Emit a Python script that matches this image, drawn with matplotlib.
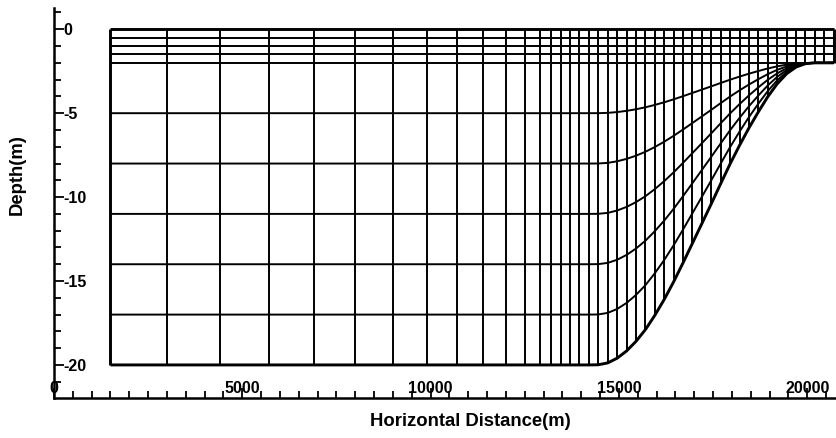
import numpy as np
import matplotlib
matplotlib.use('Agg')
import matplotlib.pyplot as plt
from matplotlib.ticker import MultipleLocator

plt.rcParams['font.family'] = ['Liberation Sans', 'DejaVu Sans']
plt.rcParams['font.weight'] = 'bold'

# Grid node x positions (m)
x_nodes = [1500, 3000, 4400, 5700, 6900, 8000, 9000, 9900, 10700, 11400,
           12000, 12500, 12900, 13200, 13450,
           13700, 13950, 14200, 14450, 14700, 14950, 15200, 15450, 15700,
           15950, 16200, 16450, 16700, 16950, 17200, 17450, 17700, 17950,
           18200, 18450, 18700, 18950, 19200, 19450, 19700, 19950, 20200,
           20450, 20700]
# Bottom depth at each node (m)
bottom_depth = [-20, -20, -20, -20, -20, -20, -20, -20, -20, -20,
                -20, -20, -20, -20, -20,
                -20, -20, -20, -19.99, -19.88, -19.6, -19.17, -18.6, -17.9,
                -17.05, -16.1, -15.05, -13.92, -12.75, -11.58, -10.4, -9.2, -8.02,
                -6.92, -5.88, -4.92, -4.02, -3.25, -2.65, -2.25, -2.05, -2.0,
                -2.0, -2.0]
# Fixed near-surface z-levels (m)
surface_levels = [0, -0.5, -1.0, -1.5, -2.0]
n_sigma_layers = 6

x_ticks = [0, 5000, 10000, 15000, 20000]
x_tick_labels = ['0', '5000', '10000', '15000', '20000']
y_ticks = [0, -5, -10, -15, -20]
y_tick_labels = ['0', '-5', '-10', '-15', '-20']

x = np.array(x_nodes, dtype=float)
hb = np.array(bottom_depth, dtype=float)
ztop = surface_levels[-1]

fig = plt.figure(figsize=(8.37, 4.38), dpi=100)
ax = fig.add_axes([54/837, 1-398/438, 1-54/837, (398-8.3)/438])

lw_in = 1.4
lw_out = 2.1
c = 'black'

# horizontal z-levels
for i, lev in enumerate(surface_levels):
    ax.plot([x[0], x[-1]], [lev, lev], color=c,
            lw=lw_out if i == 0 else lw_in, solid_capstyle='butt', zorder=2)
# sigma levels
for k in range(1, n_sigma_layers + 1):
    z = ztop + (hb - ztop) * k / n_sigma_layers
    ax.plot(x, z, color=c, lw=lw_out if k == n_sigma_layers else lw_in,
            solid_capstyle='butt', solid_joinstyle='round', zorder=2)
# vertical grid lines
for i, (xi, bi) in enumerate(zip(x, hb)):
    edge = (i == 0 or i == len(x) - 1)
    ax.plot([xi, xi], [surface_levels[0], bi], color=c,
            lw=lw_out if edge else lw_in, solid_capstyle='butt', zorder=2)

ax.set_xlim(0, 20788)
ax.set_ylim(-21.97, 1.25)

for s in ['top', 'right']:
    ax.spines[s].set_visible(False)
for s in ['left', 'bottom']:
    ax.spines[s].set_linewidth(1.8)

ax.set_xticks(x_ticks)
ax.set_xticklabels(x_tick_labels)
ax.set_yticks(y_ticks)
ax.set_yticklabels(y_tick_labels)
ax.xaxis.set_minor_locator(MultipleLocator(500))
ax.yaxis.set_minor_locator(MultipleLocator(1))

ax.tick_params(axis='both', which='major', direction='in', length=7, width=1.3,
               labelsize=11.5)
ax.tick_params(axis='both', which='minor', direction='in', length=5, width=1.3)
ax.tick_params(axis='x', which='major', pad=-12.5)
ax.tick_params(axis='y', which='major', pad=-6.5)
for lbl in ax.get_yticklabels():
    lbl.set_ha('left')
for lbl in ax.get_xticklabels() + ax.get_yticklabels():
    lbl.set_fontweight('bold')

fig.text(470/837, 1-421/438, 'Horizontal Distance(m)', ha='center', va='center',
         fontsize=13.3, fontweight='bold')
fig.text(17/837, 1-175/438, 'Depth(m)', ha='center', va='center', rotation=90,
         fontsize=13.3, fontweight='bold')

fig.savefig('out.png', dpi=100)
